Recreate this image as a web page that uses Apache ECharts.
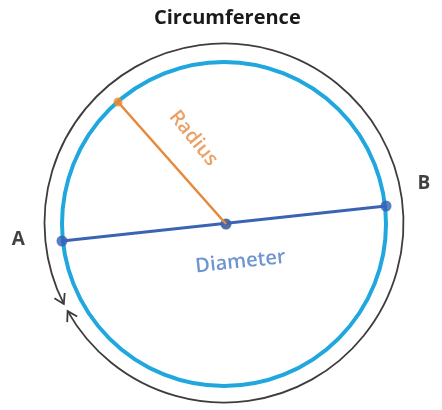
<!DOCTYPE html>
<html><head><meta charset="utf-8">
<script src="https://cdn.jsdelivr.net/npm/echarts@6/dist/echarts.min.js"></script>
<style>html,body{margin:0;padding:0;background:#fff}#chart{width:442px;height:410px}</style>
</head><body><div id="chart"></div>
<script>
// Diagram data (diagram units, origin at circle centre, y upward)
const titleText = 'Circumference';
const innerCircle = [0, 0, 162];          // cx, cy, r
const outerCircle = [0, 1, 179.5];        // cx, cy, r
const outerGapDeg = [206.8, 209.4];       // arrow tip angles (degrees, counter-clockwise from +x)
const pointNames = ['A', 'B', 'O', 'R'];
const pointX = [-162, 162, 2, -106];
const pointY = [-17, 18, 0, 122];
const labelTexts = ['A', 'B', 'Radius', 'Diameter'];
const labelX = [-205.7, 200, -30.7, 16.5];
const labelY = [-16, 40.5, 85.7, -38];
const labelAngles = [0, 0, -51, 6];

const chart = echarts.init(document.getElementById('chart'), null, {renderer: 'canvas'});
const FONT = 'Open Sans';
const pointColors = ['#2f5fb8', '#2f5fb8', '#264b8e', '#f08a2c'];
const labelStyles = [
  {color: '#111', fontSize: 19, fontWeight: 'bold'},
  {color: '#111', fontSize: 19, fontWeight: 'bold'},
  {color: '#e6893e', fontSize: 20, fontWeight: 600},
  {color: '#4a7bc4', fontSize: 20, fontWeight: 600}
];

function arrowHead(tip, dirAngle, len, spread) {
  // dirAngle: screen angle of the arrow's pointing direction
  const back = dirAngle + Math.PI;
  return [
    [tip[0] + len * Math.cos(back - spread), tip[1] + len * Math.sin(back - spread)],
    tip,
    [tip[0] + len * Math.cos(back + spread), tip[1] + len * Math.sin(back + spread)]
  ];
}

const option = {
  animation: false,
  backgroundColor: '#fff',
  title: {
    text: titleText, left: 154, top: 8, padding: 0,
    textStyle: {fontFamily: FONT, fontSize: 20, fontWeight: 'bold', color: '#1a1a1a'}
  },
  grid: {left: 0, right: 0, top: 0, bottom: 0},
  xAxis: {type: 'value', min: -224, max: 218, show: false},
  yAxis: {type: 'value', min: -186, max: 224, show: false},
  series: [
    {
      type: 'custom', name: 'outer', silent: true, clip: false,
      data: [[outerCircle[0], outerCircle[1], outerCircle[2], outerGapDeg[0], outerGapDeg[1]]],
      renderItem: function (params, api) {
        const c = api.coord([api.value(0), api.value(1)]);
        const r = api.size([api.value(2), 0])[0];
        const a1 = -api.value(3) * Math.PI / 180; // screen angle of tip 1 (arc end)
        const a2 = -api.value(4) * Math.PI / 180; // screen angle of tip 2 (arc start)
        const tip1 = [c[0] + r * Math.cos(a1), c[1] + r * Math.sin(a1)];
        const tip2 = [c[0] + r * Math.cos(a2), c[1] + r * Math.sin(a2)];
        const d1 = Math.atan2(-Math.cos(a1), Math.sin(a1));
        const d2 = Math.atan2(Math.cos(a2), -Math.sin(a2));
        const st = {stroke: '#3d3d3d', lineWidth: 1.8, fill: null};
        return {
          type: 'group',
          children: [
            {type: 'arc', shape: {cx: c[0], cy: c[1], r: r, startAngle: a2, endAngle: a1, clockwise: false}, style: st},
            {type: 'polyline', shape: {points: arrowHead(tip1, d1, 11, 0.55)}, style: st},
            {type: 'polyline', shape: {points: arrowHead(tip2, d2, 11, 0.55)}, style: st}
          ]
        };
      }
    },
    {
      type: 'custom', name: 'inner', silent: true, clip: false,
      data: [innerCircle],
      renderItem: function (params, api) {
        const c = api.coord([api.value(0), api.value(1)]);
        const r = api.size([api.value(2), 0])[0];
        return {type: 'circle', shape: {cx: c[0], cy: c[1], r: r},
          style: {fill: null, stroke: '#1fa7de', lineWidth: 4}};
      }
    },
    {
      type: 'line', name: 'Diameter', symbol: 'none', silent: true,
      data: [[pointX[0], pointY[0]], [pointX[1], pointY[1]]],
      lineStyle: {color: '#3b63b4', width: 3}
    },
    {
      type: 'line', name: 'Radius', symbol: 'none', silent: true,
      data: [[pointX[2], pointY[2]], [pointX[3], pointY[3]]],
      lineStyle: {color: '#e6883a', width: 2.5}
    },
    {
      type: 'scatter', name: 'points', silent: true,
      data: pointNames.map((n, i) => ({name: n, value: [pointX[i], pointY[i]],
        symbolSize: i === 3 ? 9 : 11, itemStyle: {color: pointColors[i]}}))
    },
    {
      type: 'scatter', name: 'labels', silent: true, symbolSize: 0,
      data: labelTexts.map((t, i) => ({name: t, value: [labelX[i], labelY[i]],
        label: Object.assign({show: true, position: 'inside', formatter: t, rotate: labelAngles[i],
          fontFamily: FONT}, labelStyles[i])}))
    }
  ]
};
chart.setOption(option);
</script></body></html>
